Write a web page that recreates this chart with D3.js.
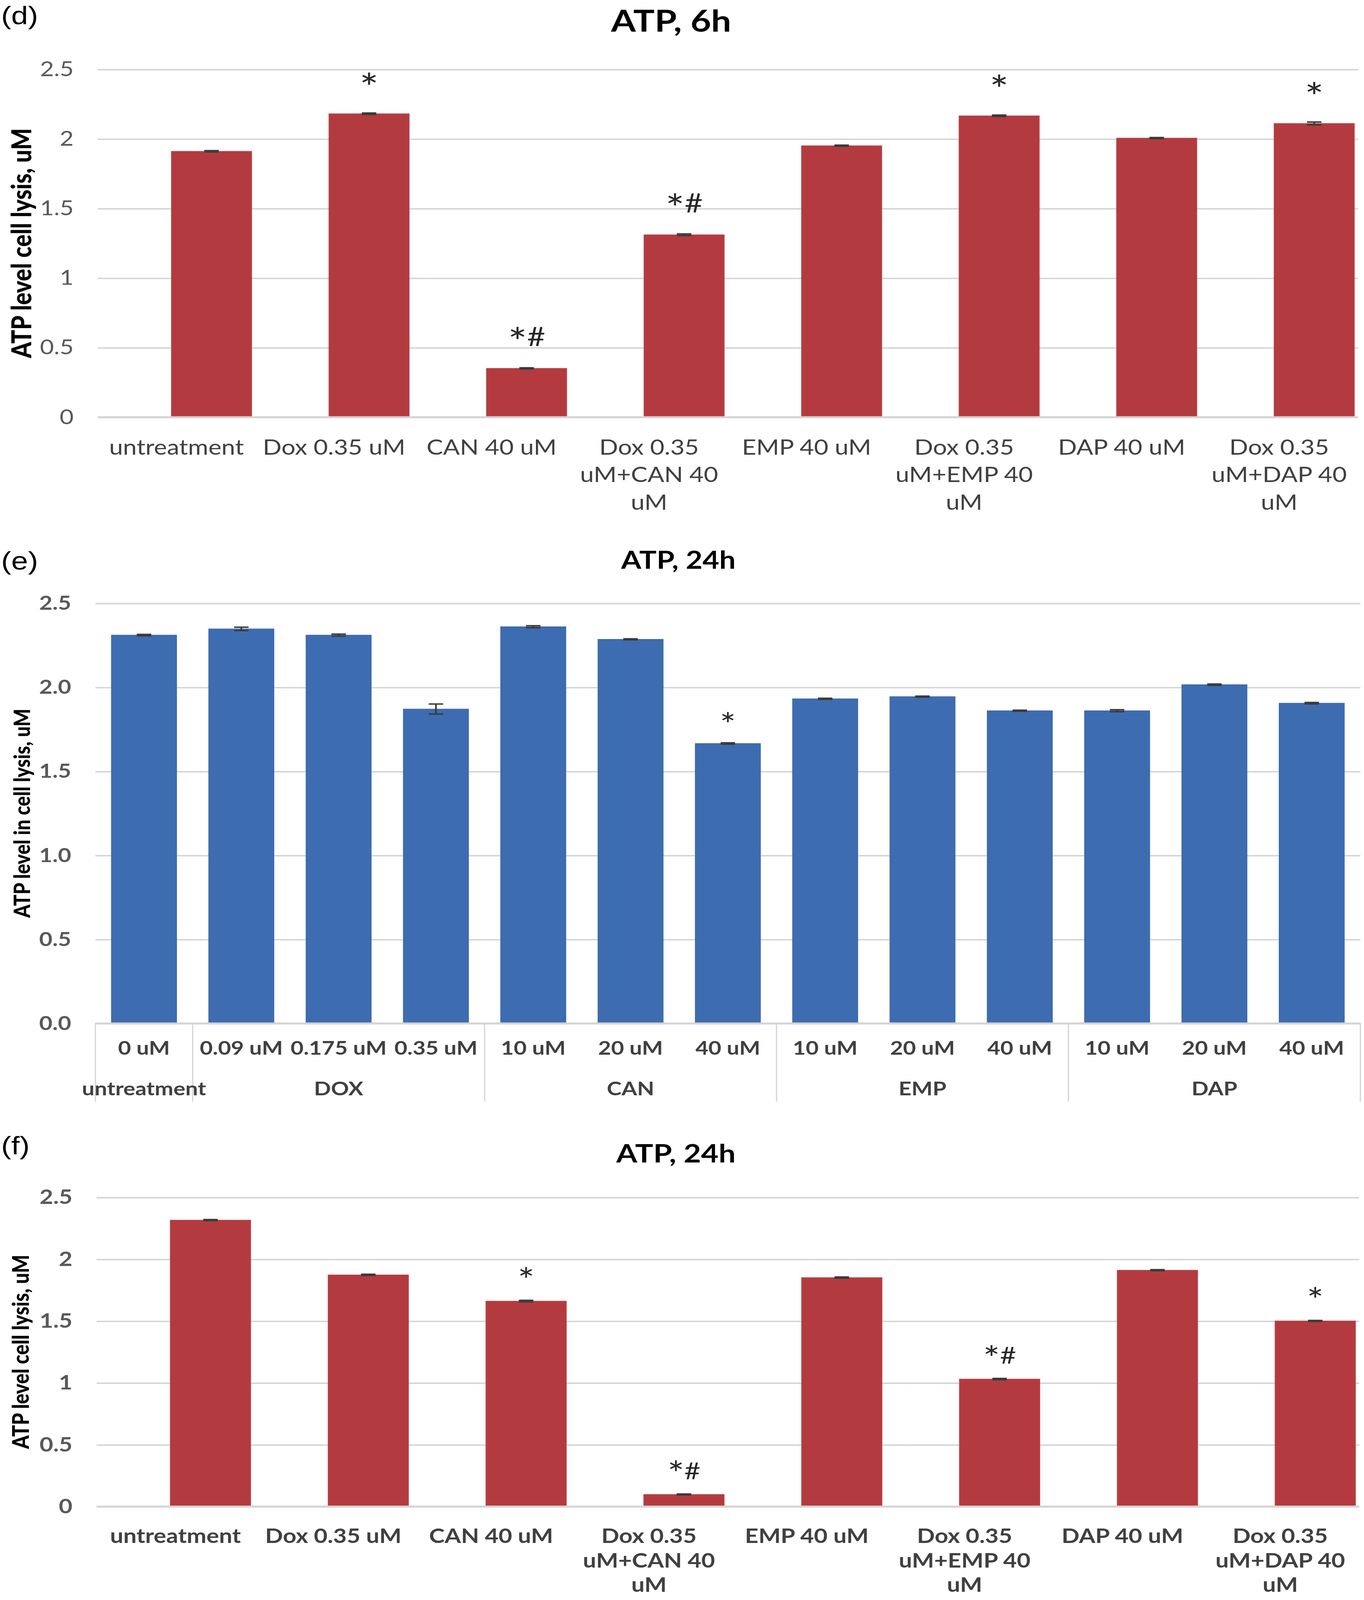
<!DOCTYPE html>
<html>
<head>
<meta charset="utf-8">
<script src="https://cdn.jsdelivr.net/npm/d3@7"></script>
<style>
html,body{margin:0;padding:0;background:#fff;overflow:hidden;}
#canvas{line-height:0;}
svg{display:block;}
svg text{font-family:Lato,'Noto Sans',sans-serif;}
</style>
</head>
<body>
<div id="canvas"></div>
<script>
// whole figure is laid out in a 1130 x 1573 box, stretched to the window
var W = 1130, H = 1573;

var yTicks = [0, 0.5, 1, 1.5, 2, 2.5];

// (d) ATP, 6h
var dCats = ["untreatment", "Dox 0.35 uM", "CAN 40 uM", "Dox 0.35 uM+CAN 40 uM",
             "EMP 40 uM", "Dox 0.35 uM+EMP 40 uM", "DAP 40 uM", "Dox 0.35 uM+DAP 40 uM"];
var dVals = [1.91, 2.18, 0.35, 1.31, 1.95, 2.165, 2.005, 2.11];
var dErr  = [0.005, 0.005, 0.004, 0.006, 0.004, 0.005, 0.004, 0.01];
var dSig  = ["", "*", "*#", "*#", "", "*", "", "*"];

// (e) ATP, 24h, dose series
var eGroupNames = ["untreatment", "DOX", "CAN", "EMP", "DAP"];
var eGroupSizes = [1, 3, 3, 3, 3];
var eDoses = ["0 uM", "0.09 uM", "0.175 uM", "0.35 uM", "10 uM", "20 uM", "40 uM",
              "10 uM", "20 uM", "40 uM", "10 uM", "20 uM", "40 uM"];
var eVals = [2.31, 2.347, 2.31, 1.87, 2.36, 2.285, 1.665, 1.931, 1.944, 1.86, 1.86, 2.015, 1.905];
var eErr  = [0.004, 0.01, 0.006, 0.03, 0.006, 0.003, 0.004, 0.003, 0.003, 0.003, 0.006, 0.004, 0.004];
var eSig  = ["", "", "", "", "", "", "*", "", "", "", "", "", ""];

// (f) ATP, 24h, combinations
var fCats = dCats;
var fVals = [2.315, 1.872, 1.66, 0.097, 1.85, 1.03, 1.91, 1.50];
var fErr  = [0.004, 0.005, 0.006, 0.004, 0.005, 0.005, 0.004, 0.004];
var fSig  = ["", "", "*", "*#", "", "*#", "", "*"];

var red = '#b33b3f', blue = '#3e6cb0';

var vw = window.innerWidth || 3492, vh = window.innerHeight || 4861;
var svg = d3.select('#canvas').append('svg')
    .attr('width', vw).attr('height', vh)
    .attr('viewBox', '0 0 ' + W + ' ' + H)
    .attr('preserveAspectRatio', 'none');

function wrap(sel, width, lh) {
    sel.each(function() {
        var t = d3.select(this), words = t.text().split(/\s+/), line = [], n = 0,
            x = t.attr('x') || 0, y = +t.attr('y') || 0, dy = t.attr('dy');
        t.text(null);
        var ts = t.append('tspan').attr('x', x).attr('y', y).attr('dy', dy);
        words.forEach(function(w) {
            line.push(w);
            ts.text(line.join(' '));
            if (ts.node().getComputedTextLength() > width && line.length > 1) {
                line.pop();
                ts.text(line.join(' '));
                line = [w];
                ts = t.append('tspan').attr('x', x).attr('y', y + (++n) * lh).attr('dy', dy).text(w);
            }
        });
    });
}

function drawPanel(o) {
    var g = svg.append('g');
    var y = d3.scaleLinear().domain([0, 2.5]).range([o.y0, o.yTop]);
    var x = d3.scaleBand().domain(d3.range(o.vals.length)).range([o.xl, o.xr]);
    var bw = x.bandwidth() * o.barFrac;
    var cx = function(i) { return x(i) + x.bandwidth() / 2 + o.shift; };

    g.append('text').attr('x', 1).attr('y', o.letterY)
        .style('font-family', "'Liberation Sans',Arial,sans-serif").style('font-size', '25px')
        .text(o.letter);

    g.append('text').attr('x', o.titleX).attr('y', o.titleY).attr('text-anchor', 'middle')
        .style('font-weight', 'bold').style('font-size', o.titleSize + 'px').text(o.title);

    g.append('text')
        .attr('transform', 'translate(' + o.ytX + ',' + (o.y0 + o.yTop) / 2 + ') rotate(-90)')
        .attr('text-anchor', 'middle').style('font-weight', 900)
        .style('font-size', o.ytSize + 'px').text(o.yTitle);

    var yAxis = d3.axisLeft(y).tickValues(yTicks).tickFormat(o.fmt)
        .tickSize(-(o.xr - o.xl)).tickPadding(20);
    var ya = g.append('g').attr('transform', 'translate(' + o.xl + ',0)').call(yAxis);
    ya.select('.domain').remove();
    ya.selectAll('line').attr('stroke', '#d4d4d4').attr('stroke-width', 1.4);
    ya.selectAll('text').attr('fill', '#595959').style('font-size', o.tickSize + 'px')
        .style('font-weight', o.tickBold ? 'bold' : 'normal')
        .style('font-family', 'Lato,sans-serif');

    g.selectAll('.bar').data(o.vals).enter().append('rect')
        .attr('x', function(d, i) { return cx(i) - bw / 2; })
        .attr('width', bw)
        .attr('y', function(d) { return y(d); })
        .attr('height', function(d) { return y(0) - y(d); })
        .attr('fill', o.color)
        .attr('stroke', o.stroke).attr('stroke-width', 0.5);

    // zero line drawn over the bar feet
    g.append('line').attr('x1', o.xl).attr('x2', o.xr).attr('y1', y(0)).attr('y2', y(0))
        .attr('stroke', '#d4d4d4').attr('stroke-width', 1.6);

    // error bars
    var eb = g.selectAll('.err').data(o.vals).enter().append('g');
    eb.append('line')
        .attr('x1', function(d, i) { return cx(i); }).attr('x2', function(d, i) { return cx(i); })
        .attr('y1', function(d, i) { return y(d - o.err[i]); })
        .attr('y2', function(d, i) { return y(d + o.err[i]); });
    eb.append('line')
        .attr('x1', function(d, i) { return cx(i) - 6; }).attr('x2', function(d, i) { return cx(i) + 6; })
        .attr('y1', function(d, i) { return y(d - o.err[i]); })
        .attr('y2', function(d, i) { return y(d - o.err[i]); });
    eb.append('line')
        .attr('x1', function(d, i) { return cx(i) - 6; }).attr('x2', function(d, i) { return cx(i) + 6; })
        .attr('y1', function(d, i) { return y(d + o.err[i]); })
        .attr('y2', function(d, i) { return y(d + o.err[i]); });
    eb.selectAll('line').attr('stroke', '#3a3a3a').attr('stroke-width', 1.4);

    // significance marks: '#' sits on a baseline above the bar, the larger '*' is raised
    var starDy = o.hashGap - o.starGap + 0.6 * o.starSize;
    g.selectAll('.sig').data(o.sig).enter().append('text')
        .attr('x', function(d, i) { return cx(i); })
        .attr('y', function(d, i) { return y(o.vals[i]) - o.hashGap; })
        .attr('text-anchor', 'middle').attr('fill', '#262626')
        .style('font-size', o.sigSize + 'px')
        .each(function(d) {
            var t = d3.select(this), shifted = 0;
            d.split('').forEach(function(c) {
                var want = c === '*' ? starDy : 0;
                t.append('tspan').attr('dy', want - shifted)
                    .style('font-size', c === '*' ? o.starSize + 'px' : null).text(c);
                shifted = want;
            });
        });

    return {g: g, x: x, y: y};
}

// ---- (d)
var pd = drawPanel({
    letter: '(d)', letterY: 24, title: 'ATP, 6h', titleX: 556, titleY: 31, titleSize: 29.5,
    yTitle: 'ATP level cell lysis, uM', ytX: 26, ytSize: 22.5,
    vals: dVals, err: dErr, sig: dSig, color: red, stroke: '#c04a4d',
    y0: 410, yTop: 68, xl: 81, xr: 1125, barFrac: 0.51, shift: 29,
    fmt: function(d) { return String(d); }, tickSize: 20, tickBold: false,
    hashGap: 22, starGap: 35, sigSize: 26, starSize: 37.5
});
pd.g.append('g').attr('transform', 'translate(0,' + 447 + ')')
    .call(d3.axisBottom(pd.x).tickSize(0).tickPadding(0).tickFormat(function(i) { return dCats[i]; }))
    .call(function(a) {
        a.select('.domain').remove();
        a.selectAll('text').attr('fill', '#404040').attr('dy', 0).attr('y', 0)
            .style('font-size', '20.5px').style('font-family', 'Lato,sans-serif')
            .call(wrap, pd.x.bandwidth() - 4, 27);
    });

// ---- (e)
var pe = drawPanel({
    letter: '(e)', letterY: 560, title: 'ATP, 24h', titleX: 562, titleY: 559, titleSize: 24,
    yTitle: 'ATP level in cell lysis, uM', ytX: 25, ytSize: 18.5,
    vals: eVals, err: eErr, sig: eSig, color: blue, stroke: '#3465ac',
    y0: 1006, yTop: 593, xl: 79, xr: 1127, barFrac: 0.67, shift: 0,
    fmt: d3.format('.1f'), tickSize: 19, tickBold: true,
    hashGap: 14, starGap: 26.5, sigSize: 22, starSize: 31.5
});
pe.g.append('g').attr('transform', 'translate(0,' + 1037 + ')')
    .call(d3.axisBottom(pe.x).tickSize(0).tickPadding(0).tickFormat(function(i) { return eDoses[i]; }))
    .call(function(a) {
        a.select('.domain').remove();
        a.selectAll('text').attr('fill', '#404040').attr('dy', 0).attr('y', 0)
            .style('font-size', '18.5px').style('font-weight', 'bold').style('font-family', 'Lato,sans-serif');
    });
var bounds = [0];
eGroupSizes.forEach(function(n, k) { bounds.push(bounds[k] + n); });
var bx = function(idx) { return idx < eVals.length ? pe.x(idx) : 1127; };
pe.g.selectAll('.sep').data(bounds).enter().append('line')
    .attr('x1', bx).attr('x2', bx).attr('y1', 1006).attr('y2', 1083)
    .attr('stroke', '#d4d4d4').attr('stroke-width', 1);
pe.g.selectAll('.grp').data(eGroupNames).enter().append('text')
    .attr('x', function(d, k) { return (bx(bounds[k]) + bx(bounds[k + 1])) / 2; })
    .attr('y', 1077).attr('text-anchor', 'middle').attr('fill', '#404040')
    .style('font-size', '18.5px').style('font-weight', 'bold')
    .text(function(d) { return d; });

// ---- (f)
var pf = drawPanel({
    letter: '(f)', letterY: 1135, title: 'ATP, 24h', titleX: 560, titleY: 1143, titleSize: 25,
    yTitle: 'ATP level cell lysis, uM', ytX: 24, ytSize: 19,
    vals: fVals, err: fErr, sig: fSig, color: red, stroke: '#c04a4d',
    y0: 1481, yTop: 1177, xl: 80, xr: 1126, barFrac: 0.51, shift: 29,
    fmt: function(d) { return String(d); }, tickSize: 19.5, tickBold: true,
    hashGap: 15, starGap: 28.5, sigSize: 23, starSize: 33
});
pf.g.append('g').attr('transform', 'translate(0,' + 1517 + ')')
    .call(d3.axisBottom(pf.x).tickSize(0).tickPadding(0).tickFormat(function(i) { return fCats[i]; }))
    .call(function(a) {
        a.select('.domain').remove();
        a.selectAll('text').attr('fill', '#404040').attr('dy', 0).attr('y', 0)
            .style('font-size', '19.5px').style('font-weight', 'bold').style('font-family', 'Lato,sans-serif')
            .call(wrap, pf.x.bandwidth() - 4, 24);
    });
</script>
</body>
</html>
